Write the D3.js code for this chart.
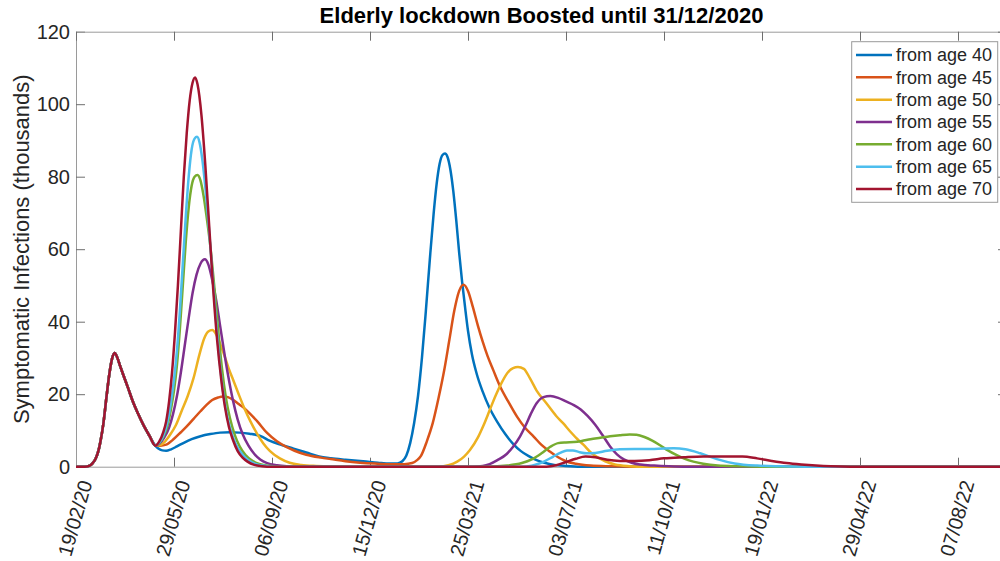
<!DOCTYPE html>
<html>
<head>
<meta charset="utf-8">
<script src="https://cdn.jsdelivr.net/npm/d3@7"></script>
<style>
  body { margin: 0; background: #fff; }
  svg { display: block; font-family: "Liberation Sans", Arial, Helvetica, sans-serif; }
</style>
</head>
<body>
<script>
// days counted from 19/02/20, values in thousands
const startLabel = "19/02/20";
const endDay = 950;
const tickLabels = ["19/02/20", "29/05/20", "06/09/20", "15/12/20", "25/03/21",
                    "03/07/21", "11/10/21", "19/01/22", "29/04/22", "07/08/22"];
const yTicks = [0, 20, 40, 60, 80, 100, 120];
const seriesNames = ["from age 40", "from age 45", "from age 50", "from age 55",
                     "from age 60", "from age 65", "from age 70"];
const colors = ["#0072BD", "#D95319", "#EDB120", "#7E2F8E", "#77AC30", "#4DBEEE", "#A2142F"];

// shared first wave (identical for every scenario)
const firstWave = [[0,0],[9,0],[14,0.3],[17,1],[20,2.2],[23,4.5],[25,7],[28,12],[31,19],[34,25.5],
  [37,30],[39.5,31.4],[42,30.2],[45,27.8],[48,25.5],[53,21.8],[58,18],[63,14.8],[69,11.4],[75,8.5],[81,5.8]];

const age40 = [[84,5],[88,4.5],[92,4.4],[97,4.8],[103,5.6],[110,6.6],[118,7.6],[127,8.4],[137,9],[147,9.4],
  [157,9.5],[167,9.4],[177,9.1],[188,8.5],[198,7.1],[210,6],[222,5],[235,3.9],[248,2.8],[260,2.3],[275,1.9],
  [293,1.5],[308,1.1],[320,0.85],[328,0.9],[333,1.5],[337,3],[341,6.5],[345,12],[349,19.5],[353,30],[357,43],
  [361,57],[365,70],[368,78],[371,83.5],[374,86],[376.5,86.4],[379,85.5],[382,82],[385,76],[388,68],[391,59],
  [394,51],[397,44],[400,37.5],[404,31],[409,25.5],[415,20.7],[422,16.2],[430,12.3],[438,9],[446,6.3],
  [454,4.3],[462,2.9],[470,1.8],[478,1.1],[488,0.5],[500,0.2],[515,0],[950,0]];

const age45 = [[86,5.8],[92,6.1],[100,7.7],[107,9.5],[113,11.1],[120,13.2],[127,15.3],[133,17],[139,18.4],
  [145,19.1],[150,19.4],[155,19.2],[160,18.5],[166,17.3],[171,16.3],[177,14.8],[185,12.5],[195,9.3],[205,7],
  [215,5.4],[223,4.4],[235,3.3],[250,2.5],[260,2.1],[275,1.5],[290,1.1],[305,0.85],[320,0.7],[335,0.7],[343,1],
  [348,1.8],[352,3],[358,7],[364,12],[370,19],[376,27],[381,35],[386,43],[391,48.5],[395.5,50.2],[400,48.5],
  [405,44],[410,39],[415,34.5],[420,30.5],[426,26.5],[433,22],[441,18],[450,13.8],[458,10.8],[467,8.3],
  [475,6],[484,4.1],[492,2.6],[500,1.5],[510,0.8],[525,0.3],[545,0.1],[570,0],[950,0]];

const age50 = [[86,6],[91,7],[96,8.8],[102,11.5],[108,15.5],[114,19.5],[120,24.5],[126,31],[131,35.5],
  [135,37.3],[139,37.7],[143,36.5],[147,34],[151,31],[156,27],[161,23.5],[166,20],[172,16],[178,12.5],
  [185,9],[191,6.5],[198,4.3],[208,2.3],[218,1.1],[230,0.5],[245,0.2],[260,0.05],[280,0],[370,0],[380,0.4],
  [389,1.4],[396,2.8],[402,4.6],[410,8],[416,11.5],[422,15.5],[428,19.5],[434,23],[440,25.8],[446,27.2],
  [451,27.5],[457,27],[463,24.5],[470,21],[480,17.5],[490,14],[497,12],[505,9.5],[512,7.5],[518,6],[525,4],
  [531,2.8],[540,1.5],[550,0.6],[565,0.15],[580,0],[950,0]];

const age55 = [[85,6.3],[90,8],[95,10.8],[99,14.5],[103,19.5],[107,26],[111,33.5],[115,41],[119,48],[123,53],
  [127,56],[131.5,57.2],[135,55.8],[139,51.5],[143,46],[147,39],[151,32],[155,25.5],[160,18.5],[165,13],
  [170,9],[176,5.8],[182,3.5],[188,2],[195,1],[205,0.4],[215,0.1],[225,0],[405,0],[415,0.2],[422,0.7],
  [430,1.8],[439.5,3.5],[446,5.5],[453,8.3],[459,11.5],[464,14.5],[470,17.5],[477,19.2],[484,19.5],[492,19],
  [500,18],[508,17],[515,15.8],[522,14],[530,11.5],[537,8.8],[545,5.6],[552,3.4],[559,2],[567,1.1],[576,0.6],
  [590,0.3],[605,0.1],[620,0],[950,0]];

const age60 = [[85,6.5],[89,8.2],[93,11],[97,16],[100,21],[103,28],[106,38],[109,50],[112,62],[115,71.5],
  [118,77.5],[121,80],[124,80.5],[127,79],[130,75],[133,69.5],[137,61],[141,50],[145,38],[149,27],[153,19],
  [157,13.5],[162,8.8],[167,5.6],[173,3.2],[180,1.6],[188,0.7],[197,0.25],[210,0],[420,0],[440,0.3],[455,1],
  [465,2],[475,3.7],[484,5.5],[492,6.5],[500,6.7],[508,6.8],[516,7.1],[525,7.6],[535,8],[545,8.4],[555,8.7],
  [565,8.9],[572,8.8],[580,8.2],[588,7.2],[596,5.9],[604,4.5],[612,3.3],[620,2.3],[630,1.4],[640,0.8],
  [655,0.3],[675,0.1],[700,0],[950,0]];

const age65 = [[85,6.6],[89,8.5],[93,12],[97,18],[100,24],[103,32],[106,43],[109,56],[112,69],[115,80],
  [118,87.5],[121,90.5],[123.5,91],[126,89.5],[129,84.5],[132,77],[135,68],[139,54],[143,40],[147,28],
  [151,19],[155,13],[160,8.3],[165,5.2],[170,3.3],[176,1.8],[183,0.8],[192,0.25],[205,0],[455,0],[465,0.3],
  [472,0.8],[479,1.6],[487,2.8],[494,3.8],[501,4.5],[507,4.5],[514,4],[521,3.7],[530,3.8],[542,4.4],
  [555,4.8],[570,4.9],[590,4.9],[610,5.1],[622,4.8],[637,3.7],[654,2.1],[672,0.9],[695,0.3],[720,0.1],
  [745,0],[950,0]];

const age70 = [[85,7],[89,9.5],[92,12.5],[95,18],[98,26],[101,37],[104,50],[107,65],[110,80],[113,92],
  [116,101],[119,106],[121.5,107.4],[124,105.5],[128,97],[132,83],[136,66],[140,49],[144,35],[148,24.5],
  [152,16.5],[156,11],[160,7.5],[165,4.3],[170,2.5],[175,1.4],[182,0.5],[190,0.15],[200,0],[480,0],
  [490,0.4],[500,1.3],[510,2.2],[520,2.8],[530,2.6],[542,1.9],[555,1.6],[570,1.6],[585,1.8],[600,2.3],
  [620,2.6],[640,2.8],[660,2.8],[680,2.8],[695,2.3],[710,1.6],[725,1],[740,0.6],[755,0.3],[770,0.1],
  [790,0],[950,0]];

const series = [age40, age45, age50, age55, age60, age65, age70].map(s => firstWave.concat(s));

const W = 1000, H = 561;
const margin = { left: 76, right: 1007, top: 31.7, bottom: 466.7 };

const svg = d3.select("body").append("svg")
    .attr("width", W)
    .attr("height", H);

const parse = d3.timeParse("%d/%m/%y");
const fmt = d3.timeFormat("%d/%m/%y");
const start = parse(startLabel);
const dayToDate = d => new Date(start.getTime() + d * 864e5);

const x = d3.scaleTime().domain([start, dayToDate(endDay)]).range([margin.left, margin.right]);
const y = d3.scaleLinear().domain([0, 120]).range([margin.bottom, margin.top]);
const tickDates = tickLabels.map(parse);

const axisColor = "#262626";

// axes (box on, ticks inside)
const gx = svg.append("g")
    .attr("transform", "translate(0," + margin.bottom + ")")
    .call(d3.axisBottom(x).tickValues(tickDates).tickFormat(fmt).tickSize(-9).tickSizeOuter(0));
gx.selectAll("text")
    .attr("text-anchor", "end")
    .attr("y", 0).attr("dy", 0)
    .attr("transform", "translate(16,16) rotate(-74)");

const gy = svg.append("g")
    .attr("transform", "translate(" + margin.left + ",0)")
    .call(d3.axisLeft(y).tickValues(yTicks).tickSize(-9).tickSizeOuter(0).tickPadding(6));

svg.append("g")
    .attr("transform", "translate(0," + margin.top + ")")
    .call(d3.axisTop(x).tickValues(tickDates).tickFormat("").tickSize(-9).tickSizeOuter(0));

svg.append("g")
    .attr("transform", "translate(" + margin.right + ",0)")
    .call(d3.axisRight(y).tickValues(yTicks).tickFormat("").tickSize(-9).tickSizeOuter(0));

svg.selectAll(".domain").attr("stroke", "#9a9a9a").attr("stroke-width", 1);
svg.selectAll(".tick line").attr("stroke", "#6e6e6e").attr("stroke-width", 1);
svg.selectAll(".tick text").attr("fill", axisColor).style("font-size", "20px")
    .style("font-family", '"Liberation Sans", Arial, sans-serif');

// lines
const line = d3.line()
    .x(d => x(dayToDate(d[0])))
    .y(d => y(d[1]))
    .curve(d3.curveMonotoneX);

svg.append("g").selectAll("path")
    .data(series)
    .enter().append("path")
    .attr("d", line)
    .attr("fill", "none")
    .attr("stroke", (d, i) => colors[i])
    .attr("stroke-width", 2.5)
    .attr("stroke-linejoin", "round");

// title and y label
svg.append("text")
    .attr("x", (margin.left + margin.right) / 2)
    .attr("y", 23)
    .attr("text-anchor", "middle")
    .style("font-size", "22px")
    .style("font-weight", "bold")
    .attr("fill", "#000")
    .text("Elderly lockdown Boosted until 31/12/2020");

svg.append("text")
    .attr("transform", "translate(28.5," + (margin.top + margin.bottom) / 2 + ") rotate(-90)")
    .attr("text-anchor", "middle")
    .style("font-size", "22px")
    .attr("fill", axisColor)
    .text("Symptomatic Infections (thousands)");

// legend
const lg = svg.append("g");
lg.append("rect")
    .attr("x", 851.7).attr("y", 41.7)
    .attr("width", 146).attr("height", 160.6)
    .attr("fill", "#fff")
    .attr("stroke", "#9a9a9a")
    .attr("stroke-width", 1);

const rows = lg.selectAll("g.row")
    .data(seriesNames)
    .enter().append("g")
    .attr("class", "row")
    .attr("transform", (d, i) => "translate(0," + (55 + i * 22.33) + ")");

rows.append("line")
    .attr("x1", 856).attr("x2", 892)
    .attr("stroke", (d, i) => colors[i])
    .attr("stroke-width", 2.5);

rows.append("text")
    .attr("x", 896)
    .attr("dy", "0.35em")
    .style("font-size", "18px")
    .attr("fill", axisColor)
    .text(d => d);
</script>
</body>
</html>
